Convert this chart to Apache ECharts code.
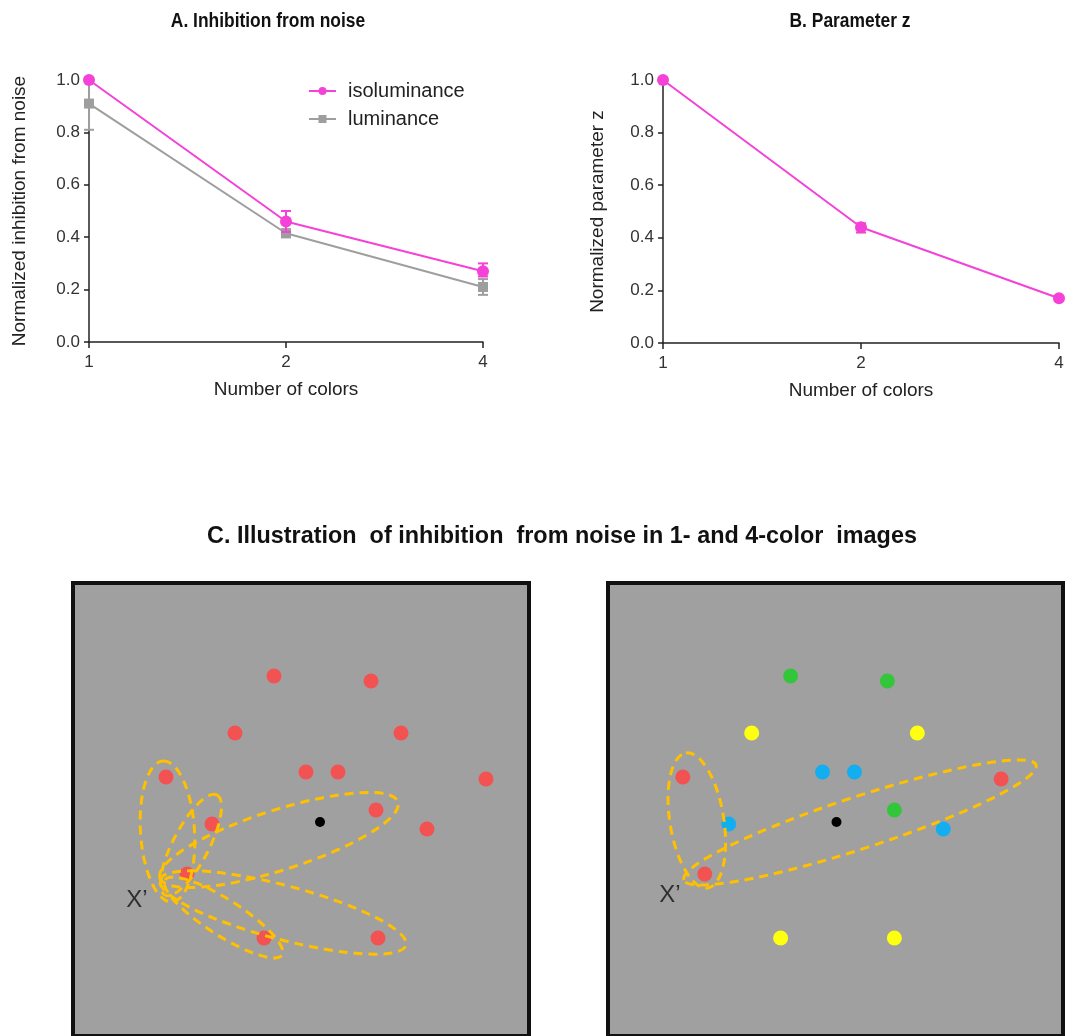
<!DOCTYPE html>
<html>
<head>
<meta charset="utf-8">
<script src="https://cdn.jsdelivr.net/npm/echarts@6/dist/echarts.min.js"></script>
<style>
html,body{margin:0;padding:0;background:#fff;}
#chart{width:1072px;height:1036px;}
</style>
</head>
<body>
<div id="chart"></div>
<script>
// ---------- Panel A / B data ----------
const categories = ['1', '2', '4'];
const isoMean = [1.0, 0.46, 0.27];
const isoLow  = [1.0, 0.42, 0.25];
const isoHigh = [1.0, 0.50, 0.30];
const lumMean = [0.91, 0.415, 0.21];
const lumLow  = [0.81, 0.40, 0.18];
const lumHigh = [1.0, 0.43, 0.24];
const zMean = [1.0, 0.44, 0.17];
const zLow  = [1.0, 0.42, 0.17];
const zHigh = [1.0, 0.455, 0.17];

// ---------- Panel C data (positions inside each box, box units) ----------
const leftRed = [[201,93],[298,98],[162,150],[328,150],[93,194],[233,189],[265,189],[413,196],[303,227],[139,241],[354,246],[114,291],[191,355],[305,355]];
const leftFix = [[247,239]];
const leftLabel = [[64,317,'X\u2019']];
// ellipses: [x1, y1, x2, y2, semiMinor]
const leftEllipses = [[90,178,99,319,27],[144,212,92,312,18],[87,295,325,219,30],[87,297,333,362,27],[92,297,209,372,18]];

const rightGreen = [[183,93],[280,98],[287,227]];
const rightYellow = [[144,150],[310,150],[173,355],[287,355]];
const rightBlue = [[215,189],[247,189],[121,241],[336,246]];
const rightRed = [[75,194],[394,196],[97,291]];
const rightFix = [[229,239]];
const rightLabel = [[62,312,'X\u2019']];
const rightEllipses = [[78,170,100,305,27],[76,297,429,182,26]];

const MAG = '#f442d8', GRY = '#9e9e9e';
const RED = '#f25252', GREEN = '#33c63a', YEL = '#ffff10', BLUE = '#12aef0';
const FONT = 'Liberation Sans, Arial, sans-serif';
const BOX_H = 453;

function pair(a, b) { return a.map((v, i) => [i, v, b[i]]); }

function errRender(color) {
  return function (params, api) {
    const i = api.value(0);
    const lo = api.coord([i, api.value(1)]);
    const hi = api.coord([i, api.value(2)]);
    const w = 5;
    return {
      type: 'group',
      children: [
        {type: 'line', shape: {x1: lo[0], y1: lo[1], x2: hi[0], y2: hi[1]}, style: {stroke: color, lineWidth: 2}},
        {type: 'line', shape: {x1: lo[0]-w, y1: lo[1], x2: lo[0]+w, y2: lo[1]}, style: {stroke: color, lineWidth: 2}},
        {type: 'line', shape: {x1: hi[0]-w, y1: hi[1], x2: hi[0]+w, y2: hi[1]}, style: {stroke: color, lineWidth: 2}}
      ]
    };
  };
}

function ellipseRender(params, api) {
  const p1 = api.coord([api.value(0), api.value(1)]);
  const p2 = api.coord([api.value(2), api.value(3)]);
  const unit = api.size([1, 1]);
  const b = api.value(4) * unit[0];
  const dx = p2[0]-p1[0], dy = p2[1]-p1[1];
  const a = Math.sqrt(dx*dx + dy*dy) / 2;
  return {
    type: 'ellipse',
    x: (p1[0]+p2[0])/2, y: (p1[1]+p2[1])/2,
    rotation: -Math.atan2(dy, dx),
    shape: {cx: 0, cy: 0, rx: a, ry: b},
    style: {fill: 'none', stroke: '#ffc000', lineWidth: 3, lineDash: [9, 6]}
  };
}

const catAxis = (gi) => ({
  type: 'category', gridIndex: gi, data: categories, boundaryGap: false,
  name: 'Number of colors', nameLocation: 'middle', nameGap: 38,
  nameTextStyle: {fontSize: 19, color: '#222', fontFamily: FONT},
  axisLine: {lineStyle: {color: '#222', width: 1.5}},
  axisTick: {alignWithLabel: true, length: 6, lineStyle: {color: '#222', width: 1.5}},
  axisLabel: {fontSize: 17, color: '#333', margin: 12, fontFamily: FONT},
  splitLine: {show: false}
});
const valAxis = (gi, name, gap) => ({
  type: 'value', gridIndex: gi, min: 0, max: 1, interval: 0.2,
  name: name, nameLocation: 'middle', nameGap: gap,
  nameTextStyle: {fontSize: 19, color: '#222', fontFamily: FONT},
  axisLine: {show: true, lineStyle: {color: '#222', width: 1.5}},
  axisTick: {show: true, length: 5, lineStyle: {color: '#222', width: 1.5}},
  axisLabel: {fontSize: 17, color: '#333', margin: 9, fontFamily: FONT, formatter: v => v.toFixed(1)},
  splitLine: {show: false}
});
const boxX = (gi) => ({type: 'value', gridIndex: gi, min: 0, max: 456, show: false});
const boxY = (gi) => ({type: 'value', gridIndex: gi, min: 0, max: BOX_H, inverse: true, show: false});

const dotSeries = (xi, data, color, size) => ({
  type: 'scatter', xAxisIndex: xi, yAxisIndex: xi, data: data,
  symbol: 'circle', symbolSize: size, itemStyle: {color: color, opacity: 1}, z: 3, silent: true
});
const labelSeries = (xi, data) => ({
  type: 'scatter', xAxisIndex: xi, yAxisIndex: xi, data: data, symbolSize: 1,
  itemStyle: {color: 'rgba(0,0,0,0)'},
  label: {show: true, position: 'inside', formatter: p => p.value[2], fontSize: 24, color: '#111', fontFamily: FONT},
  z: 5, silent: true
});
const ellipseSeries = (xi, data) => ({
  type: 'custom', xAxisIndex: xi, yAxisIndex: xi, data: data, renderItem: ellipseRender,
  clip: false, z: 4, silent: true
});

const option = {
  backgroundColor: '#ffffff',
  animation: false,
  graphic: [
    {type: 'text', x: 268, y: 21, scaleX: 0.87, style: {text: 'A. Inhibition from noise', font: 'bold 20px "Liberation Sans", Arial', fill: '#111', textAlign: 'center', textVerticalAlign: 'middle'}},
    {type: 'text', x: 850, y: 21, scaleX: 0.87, style: {text: 'B. Parameter z', font: 'bold 20px "Liberation Sans", Arial', fill: '#111', textAlign: 'center', textVerticalAlign: 'middle'}},
    {type: 'text', x: 562, y: 536, scaleX: 0.975, style: {text: 'C. Illustration  of inhibition  from noise in 1- and 4-color  images', font: 'bold 24px "Liberation Sans", Arial', fill: '#111', textAlign: 'center', textVerticalAlign: 'middle'}}
  ],
  legend: {
    left: 303, top: 76, orient: 'vertical', itemWidth: 27, itemHeight: 10, itemGap: 8,
    data: ['isoluminance', 'luminance'],
    textStyle: {fontSize: 20, color: '#222', fontFamily: FONT, padding: [0, 0, 0, 7]}
  },
  grid: [
    {left: 89, top: 80, width: 394, height: 262},
    {left: 663, top: 80, width: 396, height: 263},
    {left: 73, top: 583, width: 456, height: BOX_H, show: true, backgroundColor: '#a0a0a0', borderColor: '#111', borderWidth: 4},
    {left: 608, top: 583, width: 455, height: BOX_H, show: true, backgroundColor: '#a0a0a0', borderColor: '#111', borderWidth: 4}
  ],
  xAxis: [catAxis(0), catAxis(1), boxX(2), boxX(3)],
  yAxis: [valAxis(0, 'Normalized inhibition from noise', 60), valAxis(1, 'Normalized parameter z', 56), boxY(2), boxY(3)],
  series: [
    {name: 'luminance', type: 'line', xAxisIndex: 0, yAxisIndex: 0, data: lumMean, color: GRY,
     symbol: 'rect', symbolSize: 10, lineStyle: {width: 2, color: GRY}, itemStyle: {color: GRY}, z: 2},
    {type: 'custom', xAxisIndex: 0, yAxisIndex: 0, data: pair(lumLow, lumHigh), renderItem: errRender(GRY), z: 3, clip: false},
    {name: 'isoluminance', type: 'line', xAxisIndex: 0, yAxisIndex: 0, data: isoMean, color: MAG,
     symbol: 'circle', symbolSize: 12, lineStyle: {width: 2, color: MAG}, itemStyle: {color: MAG}, z: 4},
    {type: 'custom', xAxisIndex: 0, yAxisIndex: 0, data: pair(isoLow, isoHigh), renderItem: errRender(MAG), z: 5, clip: false},
    {name: 'z', type: 'line', xAxisIndex: 1, yAxisIndex: 1, data: zMean, color: MAG,
     symbol: 'circle', symbolSize: 12, lineStyle: {width: 2, color: MAG}, itemStyle: {color: MAG}, z: 4},
    {type: 'custom', xAxisIndex: 1, yAxisIndex: 1, data: pair(zLow, zHigh), renderItem: errRender(MAG), z: 5, clip: false},

    dotSeries(2, leftRed, RED, 15),
    dotSeries(2, leftFix, '#000', 10),
    ellipseSeries(2, leftEllipses),
    labelSeries(2, leftLabel),

    dotSeries(3, rightGreen, GREEN, 15),
    dotSeries(3, rightYellow, YEL, 15),
    dotSeries(3, rightBlue, BLUE, 15),
    dotSeries(3, rightRed, RED, 15),
    dotSeries(3, rightFix, '#000', 10),
    ellipseSeries(3, rightEllipses),
    labelSeries(3, rightLabel)
  ]
};

const chart = echarts.init(document.getElementById('chart'), null, {renderer: 'canvas'});
chart.setOption(option);
</script>
</body>
</html>
